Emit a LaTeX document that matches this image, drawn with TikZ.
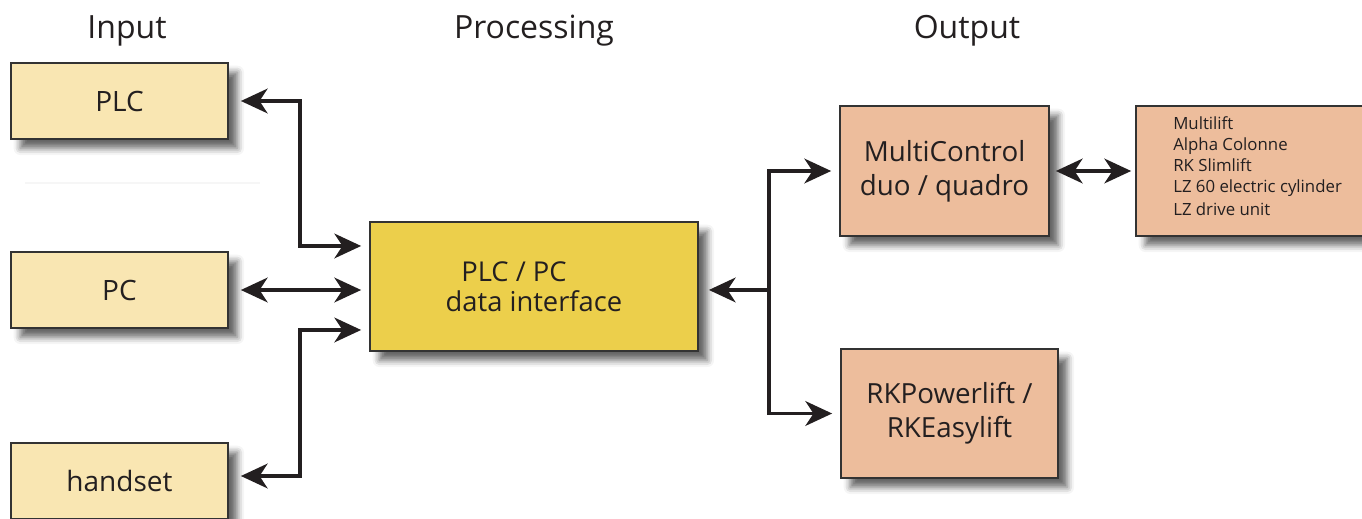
\documentclass[tikz,border=0pt]{standalone}
\usepackage{fontspec}
\setmainfont{Open Sans}
\usetikzlibrary{arrows.meta,shadows.blur}
\definecolor{inFill}{HTML}{F9E6B2}
\definecolor{procFill}{HTML}{ECCF4B}
\definecolor{outFill}{HTML}{EDBD9C}
\definecolor{edge}{HTML}{333333}
\definecolor{ink}{HTML}{231F20}
\tikzset{bigtip/.tip={Stealth[length=20pt,width=18.5pt,inset=6pt]}}
\begin{document}
\begin{tikzpicture}[x=0.75pt,y=-0.75pt,
  box/.style={draw=edge,line width=1.3pt,text=ink,inner sep=0pt,
    blur shadow={shadow xshift=7pt,shadow yshift=-7pt,shadow blur radius=5pt,shadow opacity=60}},
  inbox/.style={box,fill=inFill,minimum width=162.75pt,minimum height=57pt,font=\fontsize{21}{25}\selectfont},
  procbox/.style={box,fill=procFill},
  outbox/.style={box,fill=outFill,align=center,font=\fontsize{20.8}{25.5}\selectfont},
  heading/.style={text=ink,font=\fontsize{24}{28}\selectfont},
  conn/.style={draw=ink,line width=2.6pt,line join=miter}
]
\useasboundingbox (0,0) rectangle (1362,518);
\clip (0,0) rectangle (1362,518);
\draw[gray!7,line width=0.8pt] (25,183) -- (260,183);

\node[heading] (hin) at (127,31) {Input};
\node[heading] (hproc) at (534,31) {Processing};
\node[heading] (hout) at (967,31) {Output};

\node[inbox] (plc) at (119.5,101) {PLC};
\node[inbox] (pc) at (119.5,290) {PC};
\node[inbox] (hs) at (119.5,481) {handset};

\node[procbox,minimum width=246pt,minimum height=96.75pt] (proc) at (534,286.5) {};
\node[text=ink,font=\fontsize{20.5}{25}\selectfont,anchor=base] (pt1) at (514,281) {PLC / PC};
\node[text=ink,font=\fontsize{20.5}{25}\selectfont,anchor=base] (pt2) at (534,311) {data interface};

\node[outbox,minimum width=156.75pt,minimum height=97.5pt] (mc) at (944.5,171) {MultiControl\\duo / quadro};
\node[outbox,minimum width=162.75pt,minimum height=96.75pt] (rkp) at (949.5,413.5) {RKPowerlift /\\RKEasylift};
\node[box,fill=outFill,minimum width=177pt,minimum height=97.5pt] (list) at (1254,171) {};
\node[text=ink,font=\fontsize{12.6}{15.75}\selectfont,align=left,anchor=north west,inner sep=0pt] (lt) at (1173,116)
  {Multilift\\Alpha Colonne\\RK Slimlift\\LZ 60 electric cylinder\\[1.5pt]LZ drive unit};

\coordinate (j1) at (300,290);
\coordinate (j2) at (769,290);

\draw[conn,{bigtip}-{bigtip}] ([xshift=9pt]plc.east) -- (plc.east -| j1) |- ([xshift=-6pt,yshift=30.4pt]proc.west);
\draw[conn,{bigtip}-{bigtip}] ([xshift=9pt]pc.east) -- ([xshift=-6pt]pc.east -| proc.west);
\draw[conn,{bigtip}-{bigtip}] ([xshift=9pt,yshift=3.75pt]hs.east) -- ([yshift=3.75pt]hs.east -| j1) |- ([xshift=-6pt,yshift=-32.6pt]proc.west);

\draw[conn,{bigtip}-] ([xshift=7.5pt,yshift=-2.6pt]proc.east) -- ([yshift=-2.6pt]proc.east -| j2);
\draw[conn,{bigtip}-{bigtip}] ([xshift=-6pt]mc.west) -| (j2) |- ([xshift=-6pt]rkp.west);

\draw[conn,{bigtip}-{bigtip}] ([xshift=4.5pt]mc.east) -- ([xshift=-3pt]list.west);
\end{tikzpicture}
\end{document}
